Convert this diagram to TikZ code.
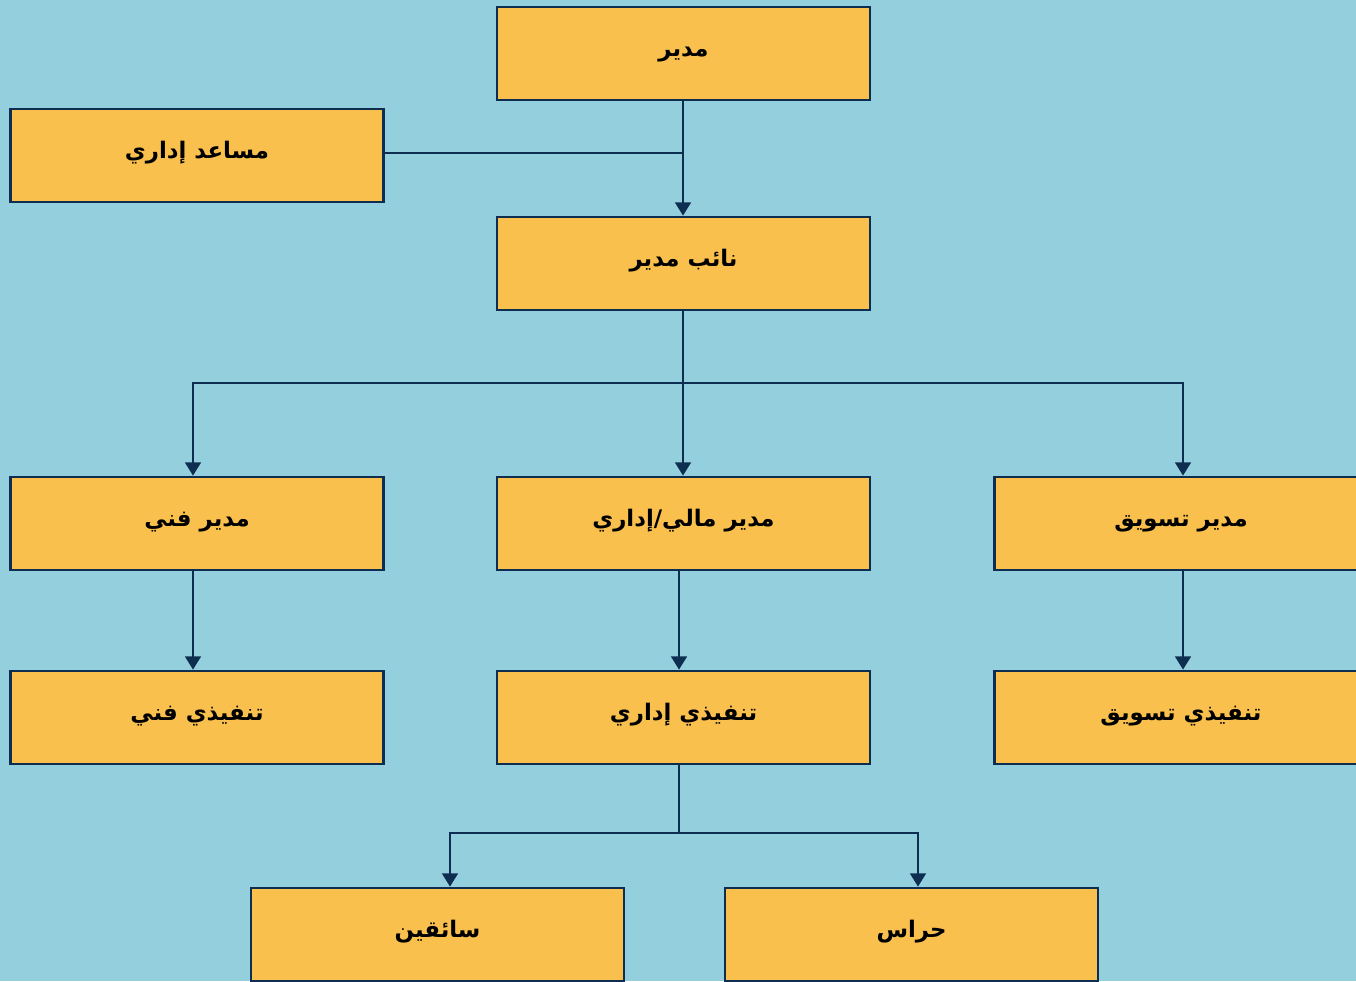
\documentclass[tikz,border=0pt]{standalone}
\usepackage{fontspec}
\usetikzlibrary{arrows.meta}
\TeXXeTstate=1
\newfontfamily\arabicfont[Script=Arabic]{DejaVu Sans}
\definecolor{skyback}{HTML}{94CFDE}
\definecolor{boxfill}{HTML}{F9C04E}
\definecolor{navyline}{HTML}{0D2E50}
\tikzset{
	orgbox/.style={rectangle,draw=navyline,fill=boxfill,line width=1.6pt,minimum width=7.46cm,minimum height=1.86cm,inner sep=0pt,text height=0.3cm,text depth=0.2cm,font=\arabicfont\bfseries\fontsize{13}{15}\selectfont},
	link/.style={draw=navyline,line width=1.1pt},
	arrowlink/.style={link,-{Triangle[width=9pt,length=7.5pt]}}
}
\begin{document}
\begin{tikzpicture}[x=0.02cm,y=-0.02cm]
	\useasboundingbox (0,0) rectangle (1356,981);
	\clip (0,0) rectangle (1356,981);
	\fill[skyback] (0,0) rectangle (1356,981);
	% boxes
	\node[orgbox] (mudir) at (683.5,53.5) {\beginR مدير\endR};
	\node[orgbox] (musaid) at (197,155.5) {\beginR مساعد إداري\endR};
	\node[orgbox] (naib) at (683.5,263.5) {\beginR نائب مدير\endR};
	\node[orgbox] (fanni) at (197,523.5) {\beginR مدير فني\endR};
	\node[orgbox] (mali) at (683.5,523.5) {\beginR مدير مالي/إداري\endR};
	\node[orgbox] (taswiq) at (1181,523.5) {\beginR مدير تسويق\endR};
	\node[orgbox] (tfanni) at (197,717.5) {\beginR تنفيذي فني\endR};
	\node[orgbox] (tidari) at (683.5,717.5) {\beginR تنفيذي إداري\endR};
	\node[orgbox] (ttaswiq) at (1181,717.5) {\beginR تنفيذي تسويق\endR};
	\node[orgbox] (saiqin) at (437.5,934.5) {\beginR سائقين\endR};
	\node[orgbox] (hurras) at (911.5,934.5) {\beginR حراس\endR};
	% connectors
	\coordinate (stem) at ([xshift=-0.01cm]mudir.south);
	\draw[arrowlink] (stem) -- (stem |- naib.north);
	\draw[link] ([yshift=0.05cm]musaid.east) -- ([yshift=0.05cm]musaid.east -| stem);
	\coordinate (split1) at (683,383);
	\draw[link] (split1 |- naib.south) -- (split1);
	\draw[arrowlink] (split1) -| ([xshift=-0.08cm]fanni.north);
	\draw[arrowlink] (split1) -- (split1 |- mali.north);
	\draw[arrowlink] (split1) -| ([xshift=0.04cm]taswiq.north);
	\draw[arrowlink] ([xshift=-0.08cm]fanni.south) -- ([xshift=-0.08cm]tfanni.north);
	\coordinate (split2) at (679,833);
	\draw[arrowlink] (split2 |- mali.south) -- (split2 |- tidari.north);
	\draw[arrowlink] ([xshift=0.04cm]taswiq.south) -- ([xshift=0.04cm]ttaswiq.north);
	\draw[link] (split2 |- tidari.south) -- (split2);
	\draw[arrowlink] (split2) -| ([xshift=0.25cm]saiqin.north);
	\draw[arrowlink] (split2) -| ([xshift=0.13cm]hurras.north);
\end{tikzpicture}
\end{document}
